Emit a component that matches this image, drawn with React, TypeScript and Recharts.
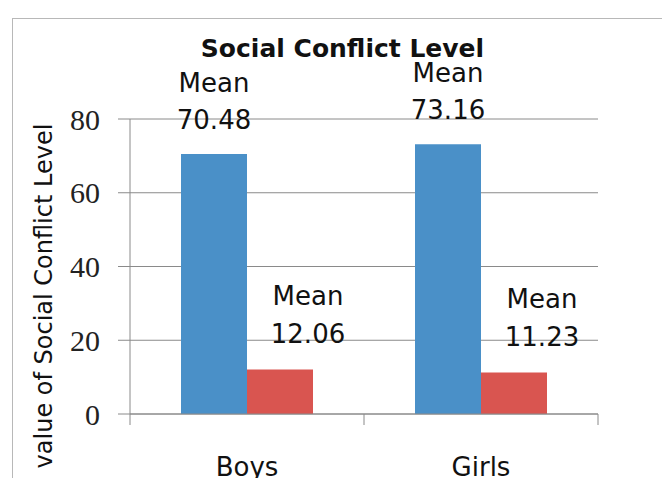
import React from 'react';
import { BarChart, Bar, XAxis, YAxis, CartesianGrid, LabelList } from 'recharts';

const categories = ['Boys', 'Girls'];
const groupAValues = [70.48, 73.16];
const groupBValues = [12.06, 11.23];
const yTicks = [0, 20, 40, 60, 80];
const labelWord = 'Mean';
const chartTitle = 'Social Conflict Level';
const yAxisTitle = 'value of Social Conflict Level';

const data = categories.map((c, i) => ({ category: c, a: groupAValues[i], b: groupBValues[i] }));

const BLUE = '#4A90C8';
const RED = '#D95550';
const GRID = '#8a8a8a';
const SANS = '"DejaVu Sans", sans-serif';
const SERIF = '"Liberation Serif", "Times New Roman", serif';

const makeLabel = (dx: number, gapNum: number, gapWord: number) => (props: any) => {
  const { x, y, width, value } = props;
  const cx = Number(x) + Number(width) / 2 + dx;
  const top = Number(y);
  return (
    <g>
      <text x={cx} y={top - gapWord} textAnchor="middle" fontFamily={SANS} fontSize={26} fill="#111">
        {labelWord}
      </text>
      <text x={cx} y={top - gapNum} textAnchor="middle" fontFamily={SANS} fontSize={26} fill="#111">
        {Number(value).toFixed(2)}
      </text>
    </g>
  );
};

const XTick = (props: any) => {
  const { x, y, payload, index } = props;
  const half = payload && payload.offset ? payload.offset : 117;
  return (
    <g>
      {index === 0 && <line x1={x - half} x2={x - half} y1={y} y2={y + 11} stroke={GRID} />}
      <line x1={x + half} x2={x + half} y1={y} y2={y + 11} stroke={GRID} />
      <text x={x} y={y + 62} textAnchor="middle" fontFamily={SANS} fontSize={26} fill="#111">
        {payload.value}
      </text>
    </g>
  );
};

const YTick = (props: any) => {
  const { x, y, payload } = props;
  return (
    <text x={x} y={y} dy="0.35em" textAnchor="end" fontFamily={SERIF} fontSize={30} fill="#222">
      {payload.value}
    </text>
  );
};

export default function App() {
  return (
    <div style={{ position: 'absolute', left: 0, top: 0, width: 662, height: 478, overflow: 'hidden', background: '#fff' }}>
      <div style={{ position: 'absolute', left: 12, top: 18, width: 700, height: 500, border: '1.5px solid #b8b8b8' }} />
      <div style={{ position: 'absolute', left: 0, top: 0 }}>
        <BarChart
          width={662}
          height={478}
          data={data}
          margin={{ top: 119, right: 64, bottom: 0, left: 10 }}
          barSize={66}
          barGap={0}
        >
          <CartesianGrid vertical={false} stroke={GRID} strokeWidth={1} />
          <XAxis
            dataKey="category"
            axisLine={{ stroke: GRID }}
            tickLine={false}
            tickSize={0}
            tickMargin={0}
            tick={<XTick />}
            interval={0}
            height={64}
          />
          <YAxis
            width={120}
            domain={[0, 80]}
            ticks={yTicks}
            interval={0}
            axisLine={{ stroke: GRID }}
            tickLine={{ stroke: GRID }}
            tickSize={12}
            tickMargin={18}
            tick={<YTick />}
          />
          <Bar dataKey="a" fill={BLUE} isAnimationActive={false}>
            <LabelList dataKey="a" content={makeLabel(0, 25, 62)} />
          </Bar>
          <Bar dataKey="b" fill={RED} isAnimationActive={false}>
            <LabelList dataKey="b" content={makeLabel(28, 27, 65)} />
          </Bar>
        </BarChart>
      </div>
      <svg width={662} height={478} style={{ position: 'absolute', left: 0, top: 0, pointerEvents: 'none' }}>
        <text x={342.5} y={57} textAnchor="middle" fontFamily={SANS} fontWeight="bold" fontSize={25} fill="#111">
          {chartTitle}
        </text>
        <text
          x={52}
          y={296}
          transform="rotate(-90, 52, 296)"
          textAnchor="middle"
          fontFamily={SANS}
          fontSize={24}
          fill="#111"
        >
          {yAxisTitle}
        </text>
      </svg>
    </div>
  );
}
